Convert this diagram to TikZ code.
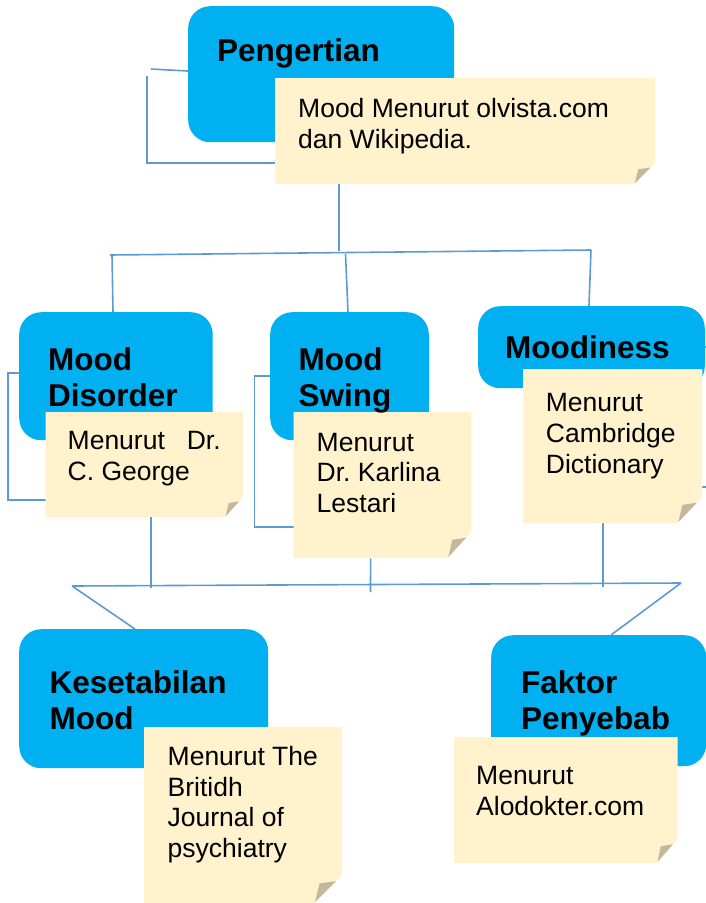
\documentclass[tikz,border=0pt]{standalone}
\usepackage{fontspec}
\setmainfont{Liberation Sans}
\frenchspacing
\usetikzlibrary{calc,backgrounds}
\definecolor{boxblue}{HTML}{00B0F0}
\definecolor{notefill}{HTML}{FFF2CC}
\definecolor{foldgray}{HTML}{C4B89C}
\definecolor{linkblue}{HTML}{5B9BD5}
\tikzset{
  bluebox/.style={fill=boxblue, rounded corners=22pt, inner sep=0pt, anchor=north west},
  % base anchor of a multi-line node = baseline of its LAST line
  titletext/.style={anchor=base west, inner sep=0pt, align=left, font=\fontsize{31.5}{36}\selectfont\bfseries},
  notetext/.style={anchor=base west, inner sep=0pt, align=left, font=\fontsize{26.5}{30.6}\selectfont},
  link/.style={draw=linkblue, line width=1.6pt},
}
\newcommand\bluerect[5]{%
  \node[bluebox, minimum width={(#4-#2)*1pt}, minimum height={(#5-#3)*1pt}] (#1) at (#2,#3) {};}
\newcommand\notepaper[7]{% name x1 y1 x2 y2 cx cy
  \fill[notefill] (#2,#3) -- (#4,#3) -- (#4,#5-#7) -- (#4-#6,#5) -- (#2,#5) -- cycle;
  \coordinate (#1-a) at (#4-#6,#5);
  \coordinate (#1-b) at (#4,#5-#7);
  \fill[foldgray] ($(#1-a)!0.04!(#1-b)$) -- ($(#1-a)!0.78!(#1-b)$) -- ($(#1-a)+(0.2*#6,-0.7*#7)$) -- cycle;
  \node[inner sep=0pt, minimum width={(#4-#2)*1pt}, minimum height={(#5-#3)*1pt}, anchor=north west] (#1) at (#2,#3) {};}
\begin{document}
\begin{tikzpicture}[x=1pt,y=-1pt]
\useasboundingbox (0,0) rectangle (706,903);

% blue boxes
\bluerect{pen}{188}{6}{454}{142}
\bluerect{md}{19}{312}{212.5}{440}
\bluerect{ms}{270}{312}{428.6}{440}
\bluerect{mdn}{478}{306}{704.6}{388}
\bluerect{kes}{19}{629}{268}{768}
\bluerect{fak}{491}{635}{706}{766}

% notes
\notepaper{pennote}{275}{78}{655}{184}{21}{21}
\notepaper{mdnote}{45.5}{412}{243}{517}{18}{20}
\notepaper{msnote}{293.6}{412}{471.4}{558}{24}{26}
\notepaper{mdnnote}{523}{369}{702.4}{523}{25}{26}
\notepaper{kesnote}{144}{727}{342}{903}{28}{28}
\notepaper{faknote}{454}{737}{677.6}{863}{21}{24}

% titles (positioned at baseline of last line)
\node[titletext] (pen-t) at (217,61) {Pengertian};
\node[titletext] (md-t) at (48,406) {Mood\\Disorder};
\node[titletext] (ms-t) at (298.5,406) {Mood\\Swing};
\node[titletext] (mdn-t) at (505,358) {Moodiness};
\node[titletext] (kes-t) at (49.5,729) {Kesetabilan\\Mood};
\node[titletext] (fak-t) at (521,729) {Faktor\\Penyebab};

% note texts (positioned at baseline of last line)
\node[notetext] (pen-n) at (298,148) {Mood Menurut olvista.com\\dan Wikipedia.};
\node[notetext] (md-n) at (67.5,480) {\makebox[153pt][s]{Menurut Dr.}\\C. George};
\node[notetext] (ms-n) at (316.5,512.5) {Menurut\\Dr. Karlina\\Lestari};
\node[notetext] (mdn-n) at (545.7,473) {Menurut\\Cambridge\\Dictionary};
\node[notetext] (kes-n) at (167.5,857.5) {Menurut The\\Britidh\\Journal of\\psychiatry};
\node[notetext] (fak-n) at (476,815) {Menurut\\Alodokter.com};

% connectors
\begin{scope}[on background layer]
  \coordinate (tA) at (151,69);
  \coordinate (tB) at (147,76);
  \coordinate (tC) at (339,251);
  \draw[link] (tA) -- ($(pen.north west)+(0,65)$);
  \draw[link] (tB) -- (147,163) -- (339,163) -- (tC);

  \coordinate (b1L) at (110,255);
  \coordinate (b1R) at (591,250);
  \draw[link] (b1L) -- (b1R);
  \draw[link] (112,255) -- ($(md.north west)+(94,0)$);
  \draw[link] (345.5,254) -- ($(ms.north west)+(78,0)$);
  \draw[link] (b1R) -- ($(mdn.north west)+(111,0)$);

  \draw[link] ($(md.north west)+(0,61)$) -- (8,373) -- (8,500) -- ($(mdnote.north west)+(0,88)$);
  \draw[link] ($(ms.north west)+(0,64)$) -- (254.4,376) -- (254.4,527) -- ($(msnote.north west)+(0,115)$);
  \draw[link] ($(mdn.north east)+(-3,41)$) -- (706,347);
  \coordinate (rE) at (706,487);
  \draw[link] (rE) -- (603,487) -- (603,587);

  \coordinate (b2L) at (72,586);
  \coordinate (b2R) at (681,583);
  \draw[link] (b2L) -- (b2R);
  \draw[link] ($(mdnote.south west)+(105.5,0)$) -- (151,588);
  \draw[link] ($(msnote.south west)+(77,0)$) -- (370.5,592);
  \draw[link] (b2L) -- ($(kes.north west)+(116,0)$);
  \draw[link] (b2R) -- ($(fak.north west)+(120,0)$);
\end{scope}
\end{tikzpicture}
\end{document}
